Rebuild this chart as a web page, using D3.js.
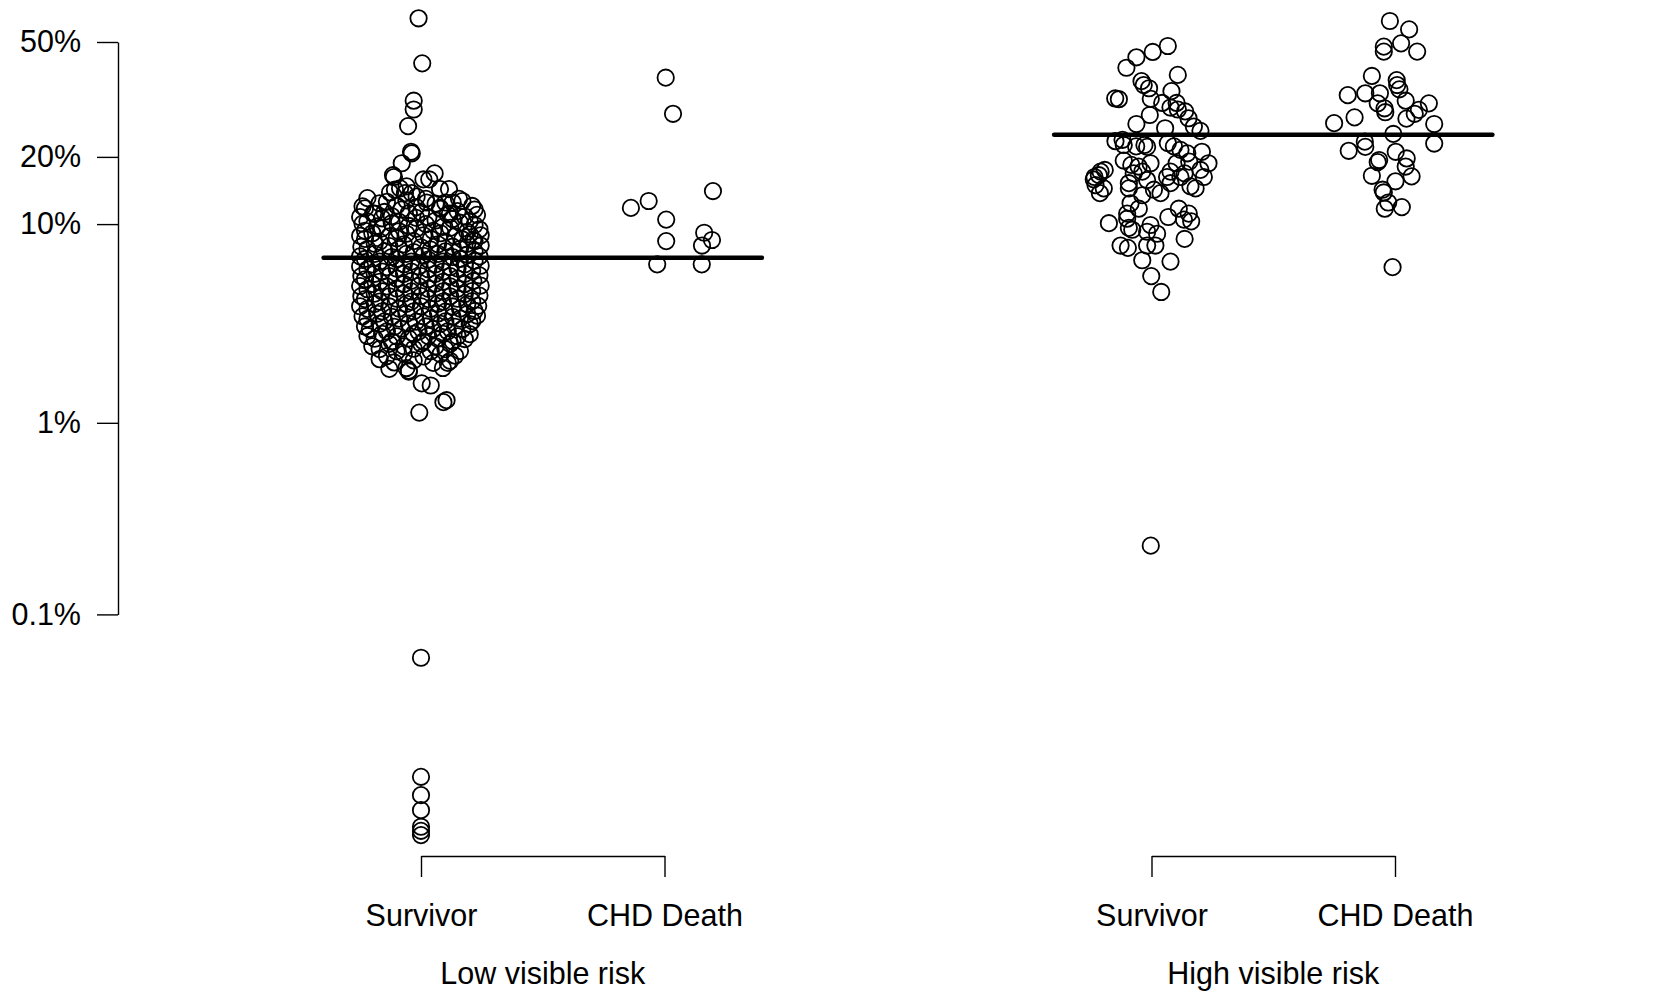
<!DOCTYPE html>
<html>
<head>
<meta charset="utf-8">
<title>Predicted risk by visible risk group</title>
<style>
  body { margin: 0; background: #fff; }
  svg { display: block; font-family: "Liberation Sans", Arial, Helvetica, sans-serif; }
  .pt { fill: none; stroke: #000; stroke-width: 1.8px; }
  .axis path, .axis line { stroke: #000; stroke-width: 1.4px; fill: none; }
  .mid { stroke: #000; stroke-width: 4.5px; stroke-linecap: round; }
  text { font-size: 30.5px; fill: #000; }
</style>
</head>
<body>
<svg width="1667" height="993"></svg>
<script src="https://d3js.org/d3.v7.min.js"></script>
<script>
// labels
var groupLabels = ['Low visible risk', 'High visible risk'];
var outcomeLabels = ['Survivor', 'CHD Death'];
var outcomePos = [[1, 2], [4, 5]];

// y axis (risk as a fraction, logit spaced)
var yTicks = [0.001, 0.01, 0.1, 0.2, 0.5];
var yTickLabels = ['0.1%', '1%', '10%', '20%', '50%'];

// horizontal line per group (risk %)
var groupLine = [6.9, 24.6];

// points: [risk %, horizontal jitter in category units]
var lowSurvivor = [
  // sparse upper tail
  [57.1,-0.01],[43.6,0.005],[33.0,-0.03],[30.7,-0.03],[26.6,-0.053],[21.0,-0.041],[20.7,-0.038],
  [18.8,-0.079],[16.4,-0.111],[16.0,0.01],[16.0,0.034],[17.0,0.056],[14.5,0.078],[14.5,0.115],
  [13.1,0.156],[14.0,-0.127],[14.4,-0.107],[14.6,-0.086],[14.9,-0.059],[13.9,-0.038],[16.7,-0.115],
  [13.9,-0.066],[13.4,-0.018],[12.6,0.023],[11.9,0.078],[11.2,0.119],[11.2,-0.197],[8.4,0.214],
  // dense body
  [13.2,-0.22],[12.7,-0.14],[12.9,-0.06],[13.1,0.02],[12.6,0.1],[12.8,0.17],
  [12.1,-0.24],[12.5,-0.17],[12.2,-0.1],[12.0,-0.02],[12.45,0.06],[12.6,0.13],[12.15,0.21],
  [11.85,-0.23],[11.4,-0.15],[11.7,-0.08],[11.35,0.0],[11.8,0.08],[11.5,0.15],[11.7,0.22],
  [10.8,-0.25],[11.2,-0.19],[10.9,-0.12],[11.25,-0.05],[10.75,0.03],[11.1,0.11],[10.85,0.18],[11.05,0.23],
  [10.3,-0.22],[10.65,-0.16],[10.25,-0.09],[10.7,-0.02],[10.4,0.06],[10.55,0.13],[10.3,0.2],
  [10.05,-0.24],[9.75,-0.18],[10.1,-0.12],[9.8,-0.05],[10.0,0.02],[9.7,0.09],[10.15,0.16],[9.9,0.22],
  [9.3,-0.23],[9.55,-0.16],[9.25,-0.09],[9.5,-0.02],[9.3,0.05],[9.6,0.12],[9.2,0.19],[9.45,0.24],
  [8.8,-0.25],[9.05,-0.2],[8.75,-0.13],[9.0,-0.06],[8.85,0.01],[9.05,0.08],[8.75,0.14],[8.95,0.2],[8.85,0.245],
  [8.5,-0.23],[8.25,-0.17],[8.55,-0.1],[8.3,-0.03],[8.5,0.04],[8.25,0.1],[8.45,0.17],[8.3,0.22],
  [7.8,-0.245],[8.05,-0.19],[7.85,-0.13],[8.0,-0.07],[7.75,0.0],[8.0,0.07],[7.8,0.13],[8.05,0.19],[7.9,0.245],
  [7.6,-0.22],[7.4,-0.15],[7.6,-0.09],[7.35,-0.03],[7.55,0.04],[7.4,0.1],[7.6,0.16],[7.4,0.22],
  [7.0,-0.25],[7.2,-0.19],[6.95,-0.12],[7.2,-0.06],[7.05,0.01],[7.2,0.07],[6.95,0.13],[7.15,0.19],[7.0,0.24],
  [6.8,-0.23],[6.6,-0.17],[6.8,-0.1],[6.6,-0.04],[6.75,0.03],[6.6,0.09],[6.8,0.16],[6.65,0.22],
  [6.25,-0.25],[6.4,-0.2],[6.2,-0.14],[6.4,-0.07],[6.25,-0.01],[6.4,0.06],[6.2,0.12],[6.4,0.18],[6.3,0.245],
  [6.05,-0.22],[5.9,-0.16],[6.1,-0.1],[5.9,-0.04],[6.05,0.03],[5.9,0.09],[6.1,0.15],[5.95,0.21],
  [5.6,-0.245],[5.75,-0.19],[5.6,-0.13],[5.75,-0.07],[5.6,0.0],[5.75,0.06],[5.6,0.12],[5.75,0.18],[5.65,0.24],
  [5.4,-0.23],[5.25,-0.17],[5.45,-0.1],[5.3,-0.04],[5.4,0.03],[5.25,0.09],[5.45,0.15],[5.3,0.215],
  [5.0,-0.25],[5.12,-0.2],[4.98,-0.14],[5.12,-0.07],[5.0,-0.01],[5.14,0.06],[4.98,0.12],[5.12,0.18],[5.02,0.245],
  [4.82,-0.22],[4.7,-0.16],[4.85,-0.1],[4.7,-0.04],[4.84,0.03],[4.7,0.09],[4.84,0.15],[4.72,0.21],
  [4.45,-0.245],[4.58,-0.19],[4.44,-0.13],[4.58,-0.07],[4.45,0.0],[4.58,0.06],[4.44,0.12],[4.56,0.18],[4.48,0.24],
  [4.3,-0.23],[4.18,-0.17],[4.32,-0.1],[4.18,-0.04],[4.3,0.03],[4.18,0.09],[4.32,0.15],[4.2,0.21],
  [3.96,-0.25],[4.07,-0.19],[3.95,-0.13],[4.07,-0.06],[3.96,0.0],[4.08,0.07],[3.95,0.13],[4.06,0.19],[3.98,0.235],
  [3.84,-0.22],[3.73,-0.16],[3.85,-0.09],[3.73,-0.03],[3.84,0.04],[3.72,0.1],[3.85,0.16],[3.75,0.22],
  [3.52,-0.24],[3.63,-0.18],[3.5,-0.12],[3.63,-0.06],[3.52,0.01],[3.64,0.07],[3.5,0.13],[3.62,0.19],[3.55,0.23],
  [3.42,-0.22],[3.32,-0.15],[3.43,-0.09],[3.31,-0.02],[3.42,0.04],[3.32,0.1],[3.43,0.16],[3.33,0.21],
  [3.13,-0.23],[3.23,-0.17],[3.12,-0.11],[3.24,-0.05],[3.13,0.02],[3.23,0.08],[3.12,0.14],[3.22,0.2],
  [3.04,-0.21],[2.96,-0.14],[3.05,-0.08],[2.95,-0.01],[3.04,0.05],[2.96,0.11],[3.04,0.17],
  [2.8,-0.22],[2.87,-0.16],[2.79,-0.1],[2.87,-0.03],[2.8,0.03],[2.87,0.09],[2.79,0.15],[2.86,0.2],
  [2.71,-0.19],[2.63,-0.12],[2.72,-0.05],[2.63,0.01],[2.71,0.07],[2.63,0.13],[2.7,0.18],
  [2.48,-0.2],[2.55,-0.13],[2.48,-0.07],[2.56,0.0],[2.48,0.06],[2.55,0.12],
  [2.4,-0.17],[2.34,-0.1],[2.41,-0.03],[2.34,0.04],[2.4,0.1],[2.35,0.16],
  [2.21,-0.14],[2.27,-0.07],[2.2,0.01],[2.26,0.08],[2.22,0.14],
  [2.05,-0.11],[2.1,-0.03],[2.04,0.05],[2.09,0.12],
  [1.9,-0.13],[1.86,-0.05],[1.92,0.09],
  // lower tail
  [2.13,-0.17],[1.84,-0.05],[1.92,-0.06],[2.04,0.11],[1.6,0.003],[1.56,0.04],[1.28,0.092],[1.31,0.105],[1.13,-0.007],
  [0.0593,0],[0.0141,0],[0.0113,0],[0.00943,0],[0.00772,0],[0.00735,0],[0.00698,0]
];

var lowDeath = [
  [39.4,0.005],[29.6,0.035],[11.9,-0.138],[12.8,-0.065],[14.2,0.199],[10.5,0.007],
  [8.3,0.007],[9.1,0.163],[8.4,0.195],[7.9,0.154],[6.4,-0.03],[6.4,0.153]
];

var highSurvivor = [
  [48.8,0.067],[47.0,0.005],[45.4,-0.062],[42.3,-0.103],[40.2,0.108],[38.4,-0.041],[37.3,-0.032],
  [36.4,-0.01],[35.6,0.082],[33.6,-0.149],[33.4,-0.134],[33.5,-0.003],[32.4,0.044],[32.4,0.103],
  [31.2,0.078],[30.7,0.108],[30.2,0.138],[29.3,-0.007],[28.5,0.152],[27.1,-0.062],[26.5,0.174],
  [26.1,0.056],[25.5,0.201],[23.5,-0.119],[23.2,-0.148],[22.4,-0.029],[22.4,-0.114],[22.1,-0.063],
  [22.0,-0.018],[22.8,0.067],[22.1,0.092],[21.4,0.119],[20.7,0.147],[21.0,0.207],[19.3,-0.114],
  [18.5,-0.083],[18.2,-0.053],[18.8,-0.004],[18.8,0.103],[19.1,0.155],[18.8,0.234],[17.3,-0.209],
  [17.6,-0.192],[16.4,-0.234],[17.3,-0.038],[17.3,0.078],[17.0,0.136],[17.6,0.201],
  [16.0,-0.237],[16.7,-0.216],[15.1,-0.23],[14.6,-0.196],[13.9,-0.212],[15.4,-0.093],[14.6,-0.093],
  [13.6,-0.038],[14.4,0.01],[13.9,0.037],[17.0,-0.073],[15.9,-0.018],[16.4,0.064],[15.4,0.078],
  [16.4,0.119],[14.9,0.16],[14.6,0.181],[16.4,0.215],[12.5,-0.086],[11.8,-0.052],[11.2,-0.1],
  [10.6,-0.1],[10.1,-0.175],[9.6,-0.093],[9.4,-0.079],[9.9,-0.004],[9.2,-0.018],[9.0,0.023],
  [10.8,0.069],[11.8,0.112],[11.2,0.153],[10.5,0.133],[10.3,0.163],[7.9,-0.127],[7.7,-0.097],
  [7.9,-0.018],[7.9,0.016],[8.5,0.136],[6.7,-0.038],[6.6,0.078],[5.6,-0.001],[4.67,0.04],
  [0.229,-0.003]
];

var highDeath = [
  [56.3,-0.021],[53.8,0.058],[49.6,0.025],[48.6,-0.046],[47.1,-0.046],[47.1,0.091],[39.9,-0.095],
  [38.7,0.007],[37.3,0.009],[36.1,0.018],[34.5,-0.194],[35.0,-0.122],[35.0,-0.062],[32.3,-0.071],
  [33.0,0.044],[31.0,-0.043],[30.0,-0.04],[32.3,0.139],[30.6,0.098],[29.6,0.081],[28.7,-0.166],
  [28.4,0.047],[27.3,-0.25],[27.1,0.161],[24.8,-0.007],[23.1,-0.124],[22.0,-0.122],[21.2,-0.19],
  [22.7,0.161],[21.0,0.003],[19.7,0.048],[19.4,-0.065],[19.0,-0.071],[18.2,0.044],[16.5,0.068],
  [16.6,-0.095],[15.7,0.002],[14.4,-0.051],[14.0,-0.046],[12.6,-0.028],[11.8,-0.042],[12.0,0.028],
  [6.2,-0.01]
];

var series = [
  { pos: outcomePos[0][0], pts: lowSurvivor },
  { pos: outcomePos[0][1], pts: lowDeath },
  { pos: outcomePos[1][0], pts: highSurvivor },
  { pos: outcomePos[1][1], pts: highDeath }
];

var logit = function(p) { return Math.log(p / (1 - p)); };

var svg = d3.select('svg');

var x = d3.scaleLinear().domain([1, 5]).range([421, 1395]);
var y = d3.scaleLinear().domain([logit(0.5), logit(0.001)]).range([42, 614.4]);

// y axis
svg.append('g')
  .attr('class', 'axis')
  .attr('transform', 'translate(118,0)')
  .call(d3.axisLeft(y)
    .tickValues(yTicks.map(logit))
    .tickFormat(function(d, i) { return yTickLabels[i]; })
    .tickSize(21)
    .tickSizeOuter(0)
    .tickPadding(16));

// one bracket axis per group
var xAxisY = 856;
outcomePos.forEach(function(pair, g) {
  var sub = x.copy().domain(pair).range([x(pair[0]), x(pair[1])]);
  svg.append('g')
    .attr('class', 'axis')
    .attr('transform', 'translate(0,' + xAxisY + ')')
    .call(d3.axisBottom(sub)
      .tickValues(pair)
      .tickFormat(function(d, i) { return outcomeLabels[i]; })
      .tickSize(21)
      .tickSizeOuter(0)
      .tickPadding(27));

  svg.append('text')
    .attr('x', x((pair[0] + pair[1]) / 2))
    .attr('y', 983.5)
    .attr('text-anchor', 'middle')
    .text(groupLabels[g]);
});

// points
series.forEach(function(s) {
  svg.append('g').selectAll('circle')
    .data(s.pts)
    .enter().append('circle')
    .attr('class', 'pt')
    .attr('cx', function(d) { return x(s.pos + d[1]); })
    .attr('cy', function(d) { return y(logit(d[0] / 100)); })
    .attr('r', 8.2);
});

// group lines drawn over the points
outcomePos.forEach(function(pair, g) {
  svg.append('line')
    .attr('class', 'mid')
    .attr('x1', x(pair[0] - 0.4))
    .attr('x2', x(pair[1] + 0.4))
    .attr('y1', y(logit(groupLine[g] / 100)))
    .attr('y2', y(logit(groupLine[g] / 100)));
});
</script>
</body>
</html>
